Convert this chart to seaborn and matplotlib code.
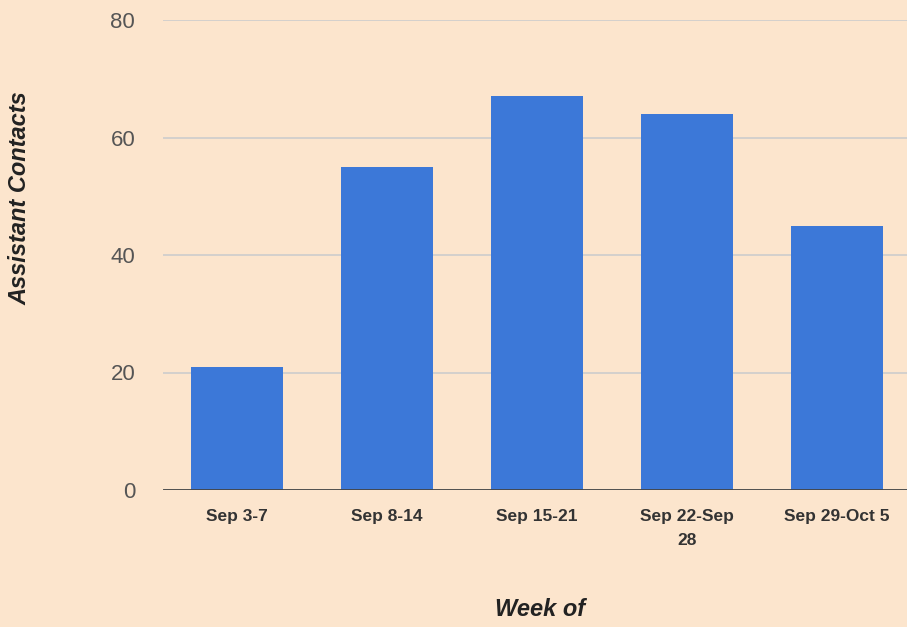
import matplotlib
matplotlib.use("Agg")
import matplotlib.pyplot as plt
import seaborn as sns
import pandas as pd

# Data
weeks = ["Sep 3-7", "Sep 8-14", "Sep 15-21", "Sep 22-Sep\n28", "Sep 29-Oct 5"]
contacts = [21, 55, 67, 64, 45]
y_ticks = [0, 20, 40, 60, 80]

bg = "#FCE5CD"
bar_color = "#3C78D8"

sns.set_style("white")
plt.rcParams["font.family"] = ["Liberation Sans", "DejaVu Sans"]

df = pd.DataFrame({"week": weeks, "contacts": contacts})

fig = plt.figure(figsize=(9.07, 6.27), dpi=100, facecolor=bg)
ax = fig.add_axes([163 / 907, 1 - 490 / 627, 1 - 163 / 907, 470 / 627])
ax.set_facecolor(bg)

sns.barplot(data=df, x="week", y="contacts", color=bar_color, width=0.613,
            saturation=1, linewidth=0, ax=ax, zorder=3)

ax.set_ylim(0, 80)
ax.set_xlim(-0.493, 4.467)
ax.set_yticks(y_ticks)
ax.yaxis.grid(True, color="#CCCCCC", linewidth=1.2, zorder=0)
ax.axhline(0, color="#444444", linewidth=2, zorder=4)

for s in ax.spines.values():
    s.set_visible(False)

ax.tick_params(axis="y", length=0, pad=20, labelsize=16, labelcolor="#555555")
ax.tick_params(axis="x", length=0, pad=14, labelsize=12.5, labelcolor="#333333")
for t in ax.get_xticklabels():
    t.set_linespacing(1.75)
    t.set_fontweight("bold")

ax.set_xlabel("")
ax.set_ylabel("")
fig.text(20 / 907, 1 - 198 / 627, "Assistant Contacts", rotation=90,
         ha="center", va="center", fontsize=17, fontweight="bold",
         fontstyle="italic", color="#222222")
fig.text(540 / 907, 1 - 610 / 627, "Week of", ha="center", va="center",
         fontsize=17, fontweight="bold", fontstyle="italic", color="#222222")

fig.savefig("out.png", dpi=100, facecolor=bg)
